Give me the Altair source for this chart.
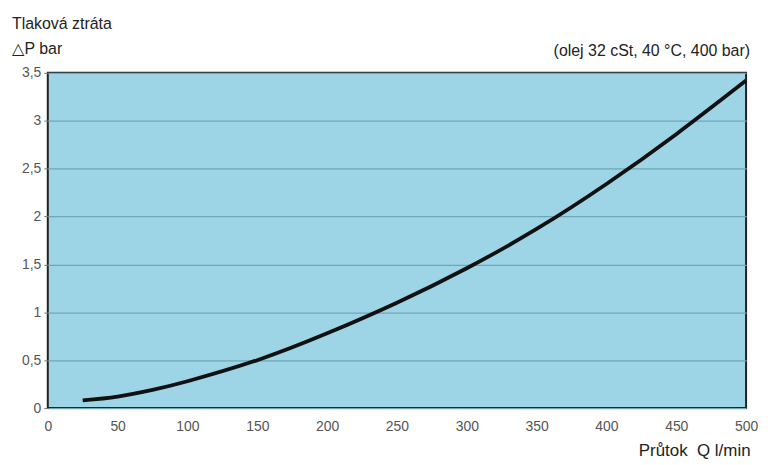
import altair as alt
import pandas as pd

flow = [25, 50, 75, 100, 150, 200, 250, 300, 350, 400, 450, 500]
dp = [0.08, 0.12, 0.19, 0.28, 0.5, 0.78, 1.1, 1.46, 1.87, 2.34, 2.86, 3.42]
x_ticks = [0, 50, 100, 150, 200, 250, 300, 350, 400, 450, 500]
y_ticks = [0, 0.5, 1, 1.5, 2, 2.5, 3, 3.5]

df = pd.DataFrame({"Q": flow, "dP": dp})
FONT = "Liberation Sans"
W = 702

base = alt.Chart(df)

line = base.mark_line(color="#111", strokeWidth=3.8, interpolate="natural").encode(
    x=alt.X("Q:Q", scale=alt.Scale(domain=[0, 500], nice=False),
            axis=alt.Axis(values=x_ticks, grid=False, domain=False, ticks=False,
                          labelFont=FONT, labelFontSize=14, labelColor="#555",
                          labelPadding=12, labelFlush=False,
                          title="Průtok\u00a0\u00a0Q l/min", titleFont=FONT, titleFontSize=17,
                          titleFontWeight="normal", titleColor="#222",
                          titleAlign="right", titleAnchor="end",
                          titleX=W + 4, titleY=48, titleBaseline="alphabetic")),
    y=alt.Y("dP:Q", scale=alt.Scale(domain=[0, 3.5], nice=False),
            axis=alt.Axis(values=y_ticks, grid=True, gridColor="#6fa6b5", gridWidth=1.2,
                          domain=False, ticks=True, tickSize=4, tickColor="#777",
                          labelFont=FONT, labelFontSize=14, labelColor="#555",
                          labelPadding=3,
                          labelExpr="replace(format(datum.value, '~g'), '.', ',')",
                          title="△P bar", titleFont=FONT, titleFontSize=16,
                          titleFontWeight="normal", titleColor="#222", titleAngle=0,
                          titleAlign="left", titleX=-36, titleY=-19,
                          titleBaseline="alphabetic")),
)

head = alt.Chart(pd.DataFrame({"t": ["Tlaková ztráta"]})).mark_text(
    font=FONT, fontSize=16, color="#222", align="left", baseline="alphabetic"
).encode(x=alt.value(-36), y=alt.value(-44), text="t:N")

cond = alt.Chart(pd.DataFrame({"t": ["(olej 32 cSt, 40 °C, 400 bar)"]})).mark_text(
    font=FONT, fontSize=16, color="#222", align="right", baseline="alphabetic"
).encode(x=alt.value(W + 4), y=alt.value(-17), text="t:N")

chart = alt.layer(line, head, cond).properties(
    width=W, height=337,
    background="white",
    autosize=alt.AutoSizeParams(type="none"),
    padding={"left": 40, "top": 64, "right": 14, "bottom": 50},
).configure_view(
    fill="#9dd5e6", stroke="#222", strokeWidth=2
)

chart.save("out.html", embed_options={"renderer": "svg", "actions": False})
